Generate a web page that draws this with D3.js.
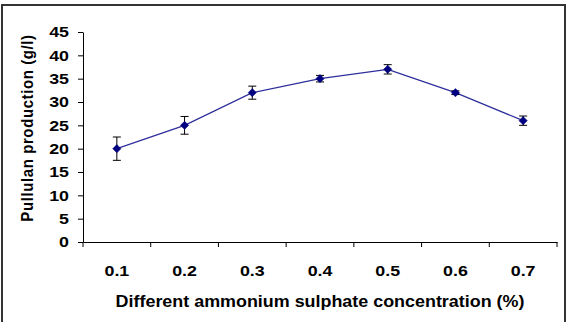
<!DOCTYPE html>
<html><head><meta charset="utf-8">
<script src="https://cdn.jsdelivr.net/npm/d3@7"></script>
<style>body{margin:0;background:#fff}svg{display:block}</style>
</head><body>
<svg id="c" width="570" height="322"></svg>
<script>
const categories = ["0.1","0.2","0.3","0.4","0.5","0.6","0.7"];
const values = [20, 25, 32, 35, 37, 32, 26];
const errors = [2.5, 1.9, 1.4, 0.7, 1.0, 0.4, 1.0];
const yTicks = [0,5,10,15,20,25,30,35,40,45];

const svg = d3.select("#c");
const font = "'Liberation Sans', Arial, sans-serif";
const m = {left:83, right:557, top:32, bottom:242};
const SX = 1.15;

svg.append("rect").attr("x",2).attr("y",5).attr("width",563).attr("height",330)
  .attr("fill","#fff").attr("stroke","#333").attr("stroke-width",2);

const x = d3.scaleBand().domain(categories).range([m.left, m.right]);
const y = d3.scaleLinear().domain([0,45]).range([m.bottom, m.top]);

const yAxis = svg.append("g").attr("transform",`translate(${m.left},0)`)
  .call(d3.axisLeft(y).tickValues(yTicks).tickSize(5).tickPadding(9).tickSizeOuter(0));
const xAxis = svg.append("g").attr("transform",`translate(0,${m.bottom})`)
  .call(d3.axisBottom(x).tickSize(0).tickPadding(23));
// category boundary ticks
svg.append("g").selectAll("line").data(categories.concat(["end"]))
  .join("line")
  .attr("x1",(d,i)=> i<categories.length ? x(d) : x.range()[1])
  .attr("x2",(d,i)=> i<categories.length ? x(d) : x.range()[1])
  .attr("y1",m.bottom).attr("y2",m.bottom+5)
  .attr("stroke","#000").attr("stroke-width",1);

[yAxis,xAxis].forEach(g=>{
  g.selectAll("path.domain").attr("stroke","#000").attr("stroke-width",1);
  g.selectAll("line").attr("stroke","#000");
  g.selectAll("text").attr("font-family",font).attr("font-weight","bold")
   .attr("font-size","15.5px").attr("fill","#000")
   .each(function(){
     const t = d3.select(this);
     const x0 = +t.attr("x") || 0;
     t.attr("x", x0/SX).attr("transform",`scale(${SX},1)`);
   });
});

const cx = d => x(d) + x.bandwidth()/2;
const data = categories.map((c,i)=>({c, v:values[i], e:errors[i]}));

// line
svg.append("path").datum(data)
  .attr("d", d3.line().x(d=>cx(d.c)).y(d=>y(d.v)))
  .attr("fill","none").attr("stroke","#2e2e9c").attr("stroke-width",1.2);

// error bars
const eb = svg.append("g").attr("stroke","#000").attr("stroke-width",1);
data.forEach(d=>{
  const xx = cx(d.c);
  eb.append("line").attr("x1",xx).attr("x2",xx).attr("y1",y(d.v+d.e)).attr("y2",y(d.v-d.e));
  eb.append("line").attr("x1",xx-4).attr("x2",xx+4).attr("y1",y(d.v+d.e)).attr("y2",y(d.v+d.e));
  eb.append("line").attr("x1",xx-4).attr("x2",xx+4).attr("y1",y(d.v-d.e)).attr("y2",y(d.v-d.e));
});

// markers
svg.append("g").selectAll("path").data(data).join("path")
  .attr("transform", d=>`translate(${cx(d.c)},${y(d.v)}) rotate(45)`)
  .attr("d", d3.symbol(d3.symbolSquare, 34)())
  .attr("fill","#000080").attr("stroke","#000080").attr("stroke-width",0.5);

// titles
svg.append("text").attr("transform","translate(320,307) scale(1.12,1)").attr("text-anchor","middle")
  .attr("font-family",font).attr("font-weight","bold").attr("font-size","16px")
  .text("Different ammonium sulphate concentration (%)");
svg.append("text").attr("transform","translate(33,128) rotate(-90) scale(1,1.1)").attr("text-anchor","middle")
  .attr("font-family",font).attr("font-weight","bold").attr("font-size","15px")
  .attr("letter-spacing","0.6px")
  .text("Pullulan production (g/l)");
</script>
</body></html>
